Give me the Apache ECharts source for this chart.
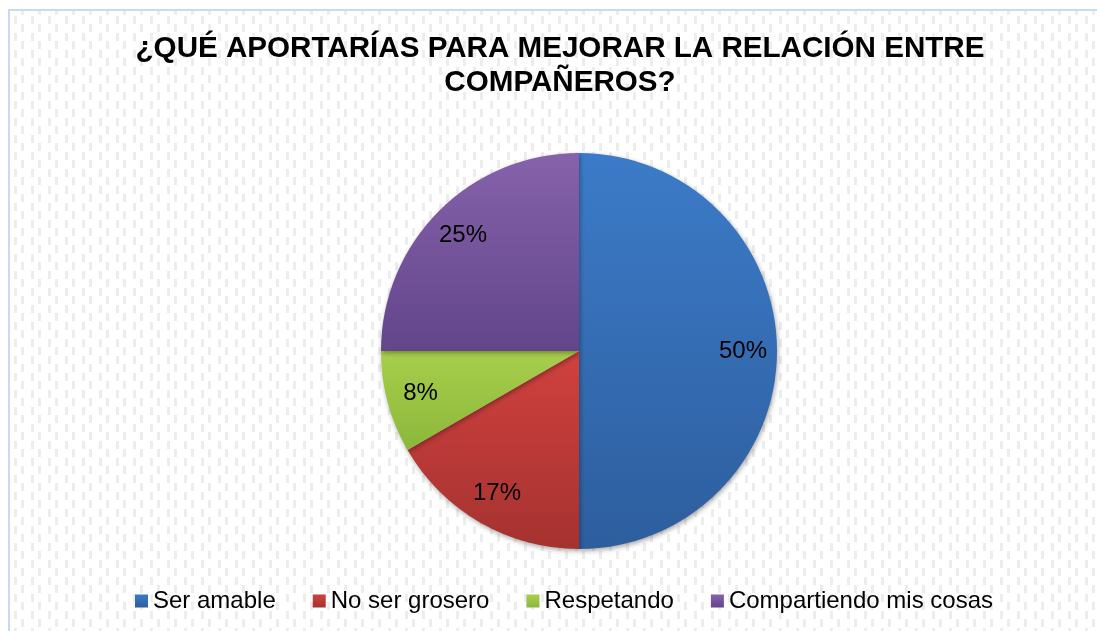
<!DOCTYPE html>
<html>
<head>
<meta charset="utf-8">
<title>¿Qué aportarías para mejorar la relación entre compañeros?</title>
<script src="https://cdn.jsdelivr.net/npm/echarts@6/dist/echarts.min.js"></script>
<style>
  html, body { margin: 0; padding: 0; background: #fff; overflow: hidden; }
  #chart { width: 1097px; height: 631px; }
</style>
</head>
<body>
<div id="chart"></div>
<script>
// datos de la encuesta (respuestas)
const categorias = ['Ser amable', 'No ser grosero', 'Respetando', 'Compartiendo mis cosas'];
const respuestas = [6, 2, 1, 3];
const titulo = '¿QUÉ APORTARÍAS PARA MEJORAR LA RELACIÓN ENTRE\nCOMPAÑEROS?';

// colores tipo Office 2007 (arriba claro, abajo oscuro)
const colores = [
  ['#3c7bc8', '#2d5e9e'],
  ['#d0413e', '#a53230'],
  ['#a8ce4c', '#8bb83a'],
  ['#8662ab', '#62458a']
];

// patrón punteado del fondo
function patronFondo() {
  const c = document.createElement('canvas');
  c.width = 17; c.height = 17;
  const ctx = c.getContext('2d');
  ctx.fillStyle = '#ffffff';
  ctx.fillRect(0, 0, 17, 17);
  ctx.fillStyle = '#ededed';
  ctx.fillRect(4, 7, 3, 8);
  ctx.fillRect(14, 16, 3, 1);
  ctx.fillRect(14, 0, 3, 7);
  return c;
}

const degradado = (i) => new echarts.graphic.LinearGradient(0, 0, 0, 1, [
  { offset: 0, color: colores[i][0] },
  { offset: 1, color: colores[i][1] }
]);

const datos = categorias.map((nombre, i) => ({
  name: nombre,
  value: respuestas[i],
  itemStyle: { color: degradado(i) }
}));

const chart = echarts.init(document.getElementById('chart'));
chart.setOption({
  animation: false,
  graphic: [{
    type: 'rect',
    z: -10,
    shape: { x: 9, y: 10, width: 1300, height: 800 },
    style: {
      fill: { image: patronFondo(), repeat: 'repeat' },
      stroke: '#c9dbf0',
      lineWidth: 2
    },
    silent: true
  }],
  title: {
    text: titulo,
    left: 560,
    top: 32,
    padding: 0,
    textAlign: 'center',
    textStyle: {
      fontFamily: 'Arial, "Liberation Sans", sans-serif',
      fontSize: 29.6,
      fontWeight: 'bold',
      lineHeight: 34,
      color: '#000'
    }
  },
  legend: {
    data: categorias,
    left: 135,
    top: 589,
    padding: 0,
    icon: 'rect',
    itemWidth: 13,
    itemHeight: 13,
    itemGap: 37,
    textStyle: {
      fontFamily: 'Arial, "Liberation Sans", sans-serif',
      fontSize: 24,
      lineHeight: 24,
      color: '#000'
    }
  },
  series: [
    {
      type: 'pie',
      center: [579, 351],
      radius: 198,
      startAngle: 90,
      clockwise: true,
      percentPrecision: 0,
      label: { show: false },
      labelLine: { show: false },
      itemStyle: {
        borderWidth: 0,
        shadowBlur: 5,
        shadowOffsetY: 2,
        shadowOffsetX: 1,
        shadowColor: 'rgba(0,0,0,0.35)'
      },
      emphasis: { disabled: true },
      data: datos
    },
    {
      // capa transparente solo para ubicar las etiquetas cerca del borde
      type: 'pie',
      center: [579, 351],
      radius: [124, 198],
      startAngle: 90,
      clockwise: true,
      percentPrecision: 0,
      silent: true,
      legendHoverLink: false,
      itemStyle: { color: 'rgba(0,0,0,0)' },
      label: {
        show: true,
        position: 'inside',
        formatter: '{d}%',
        fontFamily: 'Arial, "Liberation Sans", sans-serif',
        fontSize: 24,
        color: '#000'
      },
      labelLine: { show: false },
      emphasis: { disabled: true },
      data: categorias.map((nombre, i) => ({ name: nombre, value: respuestas[i] }))
    }
  ]
});
</script>
</body>
</html>
